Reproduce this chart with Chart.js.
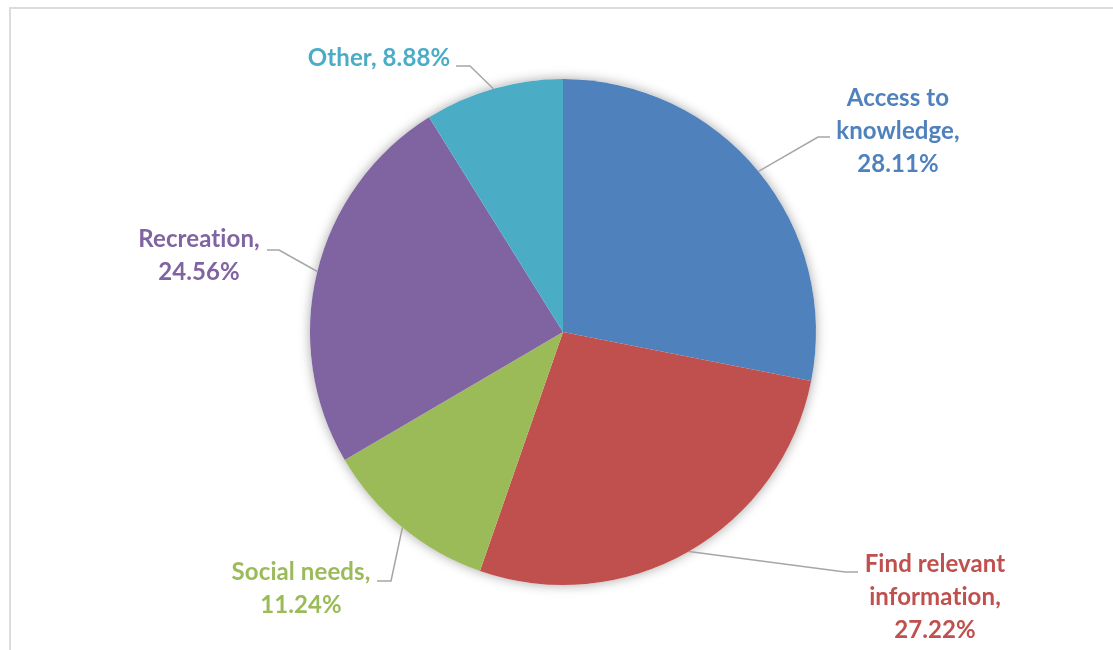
<!DOCTYPE html>
<html lang="en">
<head>
  <meta charset="UTF-8">
  <title>Reasons for use</title>
  <style>
    body {
      margin: 0;
      padding: 0;
      background: #fff;
      overflow: hidden;
      font-family: Lato, sans-serif;
    }
    .frame {
      position: absolute;
      left: 9px;
      top: 7px;
      width: 1200px;
      height: 700px;
      border: 2px solid #dcdcdc;
    }
    .chart-container {
      position: absolute;
      left: 0;
      top: 0;
      width: 1113px;
      height: 650px;
    }
  </style>
</head>
<body>
  <div class="frame"></div>
  <div class="chart-container">
    <canvas id="pieChart" width="1113" height="650"></canvas>
  </div>

  <script src="https://cdn.jsdelivr.net/npm/chart.js"></script>
  <script>
    const categories = ['Access to knowledge', 'Find relevant information', 'Social needs', 'Recreation', 'Other'];
    const shares = [28.11, 27.22, 11.24, 24.56, 8.88];
    const colors = ['#4F81BD', '#C0504D', '#9BBB59', '#8064A2', '#4BACC6'];

    // where each label sits: words per line, value inline or not, leader elbow and end, text centre
    const labelLayout = [
      { words: [2, 1], inline: false, bend: [818, 137], end: [830, 137], x: 898, y: 106 },
      { words: [2, 1], inline: false, bend: [845, 572], end: [858, 572], x: 935, y: 572 },
      { words: [2],    inline: false, bend: [391, 581], end: [377, 581], x: 301, y: 580 },
      { words: [1],    inline: false, bend: [279, 250], end: [267, 250], x: 199, y: 247 },
      { words: [1],    inline: true,  bend: [470, 66],  end: [456, 66],  x: 379, y: 66 }
    ];
    const LINE_H = 33;

    function labelLines(i) {
      const words = categories[i].split(' ');
      const lines = [];
      let k = 0;
      labelLayout[i].words.forEach(n => {
        lines.push(words.slice(k, k + n).join(' '));
        k += n;
      });
      lines[lines.length - 1] += ',';
      const value = shares[i].toFixed(2) + '%';
      if (labelLayout[i].inline) lines[lines.length - 1] += ' ' + value;
      else lines.push(value);
      return lines;
    }

    // soft shadow behind the whole pie
    const pieShadow = {
      id: 'pieShadow',
      beforeDatasetsDraw(chart) {
        const arc = chart.getDatasetMeta(0).data[0];
        if (!arc) return;
        const { x, y, outerRadius } = arc.getProps(['x', 'y', 'outerRadius'], true);
        const ctx = chart.ctx;
        ctx.save();
        ctx.shadowColor = 'rgba(0,0,0,0.35)';
        ctx.shadowBlur = 12;
        ctx.fillStyle = '#fff';
        ctx.beginPath();
        ctx.arc(x, y, outerRadius, 0, Math.PI * 2);
        ctx.fill();
        ctx.restore();
      }
    };

    // data labels with elbow leader lines
    const pieLabels = {
      id: 'pieLabels',
      afterDatasetsDraw(chart) {
        const ctx = chart.ctx;
        const meta = chart.getDatasetMeta(0);
        meta.data.forEach((arc, i) => {
          const p = arc.getProps(['x', 'y', 'startAngle', 'endAngle', 'outerRadius'], true);
          const mid = (p.startAngle + p.endAngle) / 2;
          const sx = p.x + Math.cos(mid) * p.outerRadius;
          const sy = p.y + Math.sin(mid) * p.outerRadius;
          const L = labelLayout[i];

          ctx.save();
          ctx.strokeStyle = '#a6a6a6';
          ctx.lineWidth = 1.5;
          ctx.beginPath();
          ctx.moveTo(sx, sy);
          ctx.lineTo(L.bend[0], L.bend[1]);
          ctx.lineTo(L.end[0], L.end[1]);
          ctx.stroke();

          ctx.fillStyle = colors[i];
          ctx.font = 'bold 24px Lato';
          ctx.letterSpacing = '0.1px'; // keeps "ti" from turning into a ligature
          ctx.textAlign = 'center';
          ctx.textBaseline = 'alphabetic';
          labelLines(i).forEach((line, j) => {
            ctx.fillText(line, L.x, L.y + j * LINE_H);
          });
          ctx.restore();
        });
      }
    };

    new Chart(document.getElementById('pieChart'), {
      type: 'pie',
      data: {
        labels: categories,
        datasets: [{
          data: shares,
          backgroundColor: colors,
          borderWidth: 0
        }]
      },
      options: {
        responsive: false,
        animation: false,
        layout: {
          padding: { top: 79, bottom: 65, left: 310, right: 297 }
        },
        plugins: {
          legend: { display: false },
          tooltip: { enabled: false }
        }
      },
      plugins: [pieShadow, pieLabels]
    });
  </script>
</body>
</html>
